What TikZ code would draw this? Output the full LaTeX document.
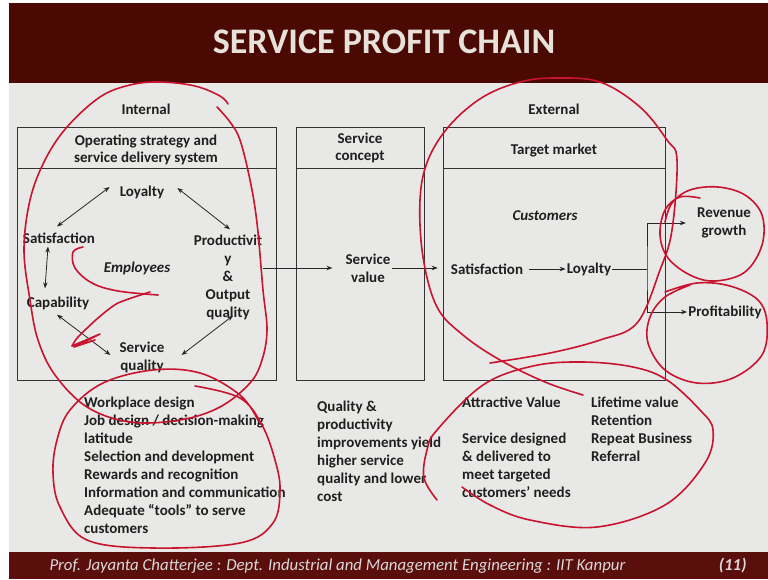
\documentclass[tikz,border=0pt]{standalone}
\usepackage{fontspec}
\setmainfont{Carlito}
\usetikzlibrary{%
  calc,arrows.meta}
\tikzset {>={Stealth[length=6pt,width=4.5pt]}}
\definecolor{banner}{HTML}{4A0903}
\definecolor{footbar}{HTML}{5B0F0C}
\definecolor{slidebg}{HTML}{E8E8E6}
\definecolor{redpen}{HTML}{C8142E}
\definecolor{titletext}{HTML}{E6E2DA}
\tikzset{
  lbl/.style={font=\fontsize{15}{18}\selectfont\bfseries,
    text=black!88, inner sep=1pt, align=center},
  listtext/.style={lbl, align=left, anchor=north west},
  frame/.style={draw=black!80, line width=1pt},
  link/.style={black!85, line width=0.8pt},
  pen/.style={redpen, line width=1.6pt, line cap=round,
    line join=round},
}

\begin{document}
\begin{tikzpicture}[x=1pt,y=-1pt]
\useasboundingbox (0,0) rectangle (768,579);
\fill[white] (0,0) rectangle (768,579);
\fill[slidebg] (9,83) rectangle (768,552);
\fill[banner] (9,3) rectangle (768,83);
\fill[footbar] (9,552) rectangle (768,579);
\node[font=\fontsize{36}{40}\selectfont\bfseries, text=titletext]
  (title) at (384,42) {SERVICE PROFIT CHAIN};

% the three columns
\draw[frame] (17,127) rectangle (276,380);
\draw[frame] (17,168) -- ++(259,0);
\draw[frame] (296,127) rectangle (424,380);
\draw[frame] (296,168) -- ++(128,0);
\draw[frame] (443,127) rectangle (665,380);
\draw[frame] (443,168) -- ++(222,0);

\node[lbl] (internal) at (146,109) {Internal};
\node[lbl] (external) at (554,109) {External};
\node[lbl, font=\fontsize{15}{17}\selectfont\bfseries]
  (opstrat) at (146,150) {Operating strategy and\\service delivery system};
\node[lbl, font=\fontsize{15}{17}\selectfont\bfseries]
  (concept) at (360,148) {Service\\concept};
\node[lbl] (target) at (554,151) {Target market};

% employee cycle
\node[lbl] (eloyal) at (142,192) {Loyalty};
\node[lbl] (esat) at (59,238) {Satisfaction};
\node[lbl] (eprod) at (228,277) {Productivit\\y\\\&\\Output\\quality};
\node[lbl, font=\fontsize{15}{18}\selectfont\bfseries\itshape]
  (employees) at (137,268) {Employees};
\node[lbl] (ecap) at (58,303) {Capability};
\node[lbl] (esq) at (142,357) {Service\\quality};

\draw[link,<->] ([shift={(-9,-5)}]eloyal.west) -- ([shift={(-2,-5)}]esat.north);
\draw[link,<->] ([shift={(12,-4)}]eloyal.east) -- ([shift={(2,-4)}]eprod.north);
\draw[link,<->] ([shift={(-11,2)}]esat.south) -- ([shift={(-13,-7)}]ecap.north);
\draw[link,<->] ([shift={(-1,4)}]ecap.south) -- ([shift={(-8,-2)}]esq.west);
\draw[link,<->] ([shift={(16,-2)}]esq.east) -- ([shift={(5,-5)}]eprod.south);

% service value and customers
\node[lbl] (sval) at (368,268) {Service\\value};
\node[lbl, font=\fontsize{15}{18}\selectfont\bfseries\itshape]
  (customers) at (545,216) {Customers};
\node[lbl] (csat) at (487,269) {Satisfaction};
\node[lbl] (cloyal) at (589,269) {Loyalty};
\node[lbl] (revenue) at (724,223) {Revenue\\growth};
\node[lbl] (profit) at (725,312) {Profitability};
\coordinate (fork) at (647,269);

\draw[link,->] (eprod.east |- sval.west) -- ([xshift=-12pt]sval.west);
\draw[link,->] (sval.east) -- ([xshift=-12pt]sval.east -| csat.west);
\draw[link,->] ([xshift=5pt]csat.east) -- (cloyal.west);
\draw[link] (cloyal.east) -- (cloyal.east -| fork);
\draw[link,<->] ([xshift=-10pt]revenue.west) -| (fork) |- (profit.west);

% lists below the columns
\node[listtext] (levers) at (83,396) {Workplace design\\Job design / decision-making\\latitude\\Selection and development\\Rewards and recognition\\Information and communication\\Adequate “tools” to serve\\customers};
\node[listtext] (improve) at (316,400) {Quality \&\\productivity\\improvements yield\\higher service\\quality and lower\\cost};
\node[listtext] (attract) at (461,396) {Attractive Value\\[18pt]Service designed\\\& delivered to\\meet targeted\\customers’ needs};
\node[listtext] (lifetime) at (590,396) {Lifetime value\\Retention\\Repeat Business\\Referral};

\node[font=\fontsize{16.8}{18}\selectfont\itshape, text=white!85!black, anchor=west]
  (credit) at (46,566) {Prof. Jayanta Chatterjee : Dept. Industrial and Management Engineering : IIT Kanpur};
\node[font=\fontsize{16.8}{18}\selectfont\bfseries\itshape, text=white!85!black, anchor=east]
  (slideno) at (750,566) {(11)};

% red pen marks
\draw[pen] plot[smooth, tension=0.6] coordinates {(217,107) (230,122) (240,140) (250,180) (257,223) (263,290) (267,330) (262,360) (250,383) (220,407) (180,420) (130,422) (87,407) (55,375) (38,340) (30,300) (24,250) (30,200) (45,160) (67,127) (100,97) (130,85) (160,82) (195,86) (220,96) (228,104)};
\draw[pen] plot[smooth, tension=0.6] coordinates {(83,247) (73,252) (75,268) (92,283) (118,291) (158,295)};
\draw[pen] plot[smooth, tension=0.4] coordinates {(150,292) (118,303) (98,318) (78,337) (72,346)};
\draw[pen] (72,346) -- (100,334) -- (74,347) -- (95,340);
\draw[pen] plot[smooth, tension=0.6] coordinates {(195,386) (240,398) (262,425) (275,460) (280,490) (273,523) (240,543) (153,548) (87,540) (60,507) (53,473) (57,440) (70,410) (103,383) (153,370) (200,373) (240,395) (258,420)};
\draw[pen] plot[smooth, tension=0.6] coordinates {(490,363) (550,353) (600,340) (637,323) (660,270) (672,230) (677,160) (667,140) (640,107) (600,82) (555,78) (520,82) (483,97) (450,125) (428,160) (420,200) (423,257) (437,307) (463,335) (500,360) (545,382) (583,395)};
\draw[pen] plot[smooth, tension=0.6] coordinates {(700,198) (680,197) (665,210) (660,235) (668,258) (690,275) (715,281) (745,272) (762,245) (762,215) (745,195) (718,187) (690,190) (672,203) (665,222)};
\draw[pen] plot[smooth, tension=0.6] coordinates {(665,292) (697,283) (730,286) (758,300) (767,323) (762,355) (733,378) (697,383) (665,370) (648,343) (650,317) (665,297) (690,285)};
\draw[pen] plot[smooth, tension=0.6] coordinates {(437,500) (424,478) (427,450) (437,430) (483,385) (533,366) (583,362) (633,367) (667,380) (700,410) (713,430) (705,463) (665,505) (597,527) (530,520) (490,505) (462,487)};
\end{tikzpicture}
\end{document}
